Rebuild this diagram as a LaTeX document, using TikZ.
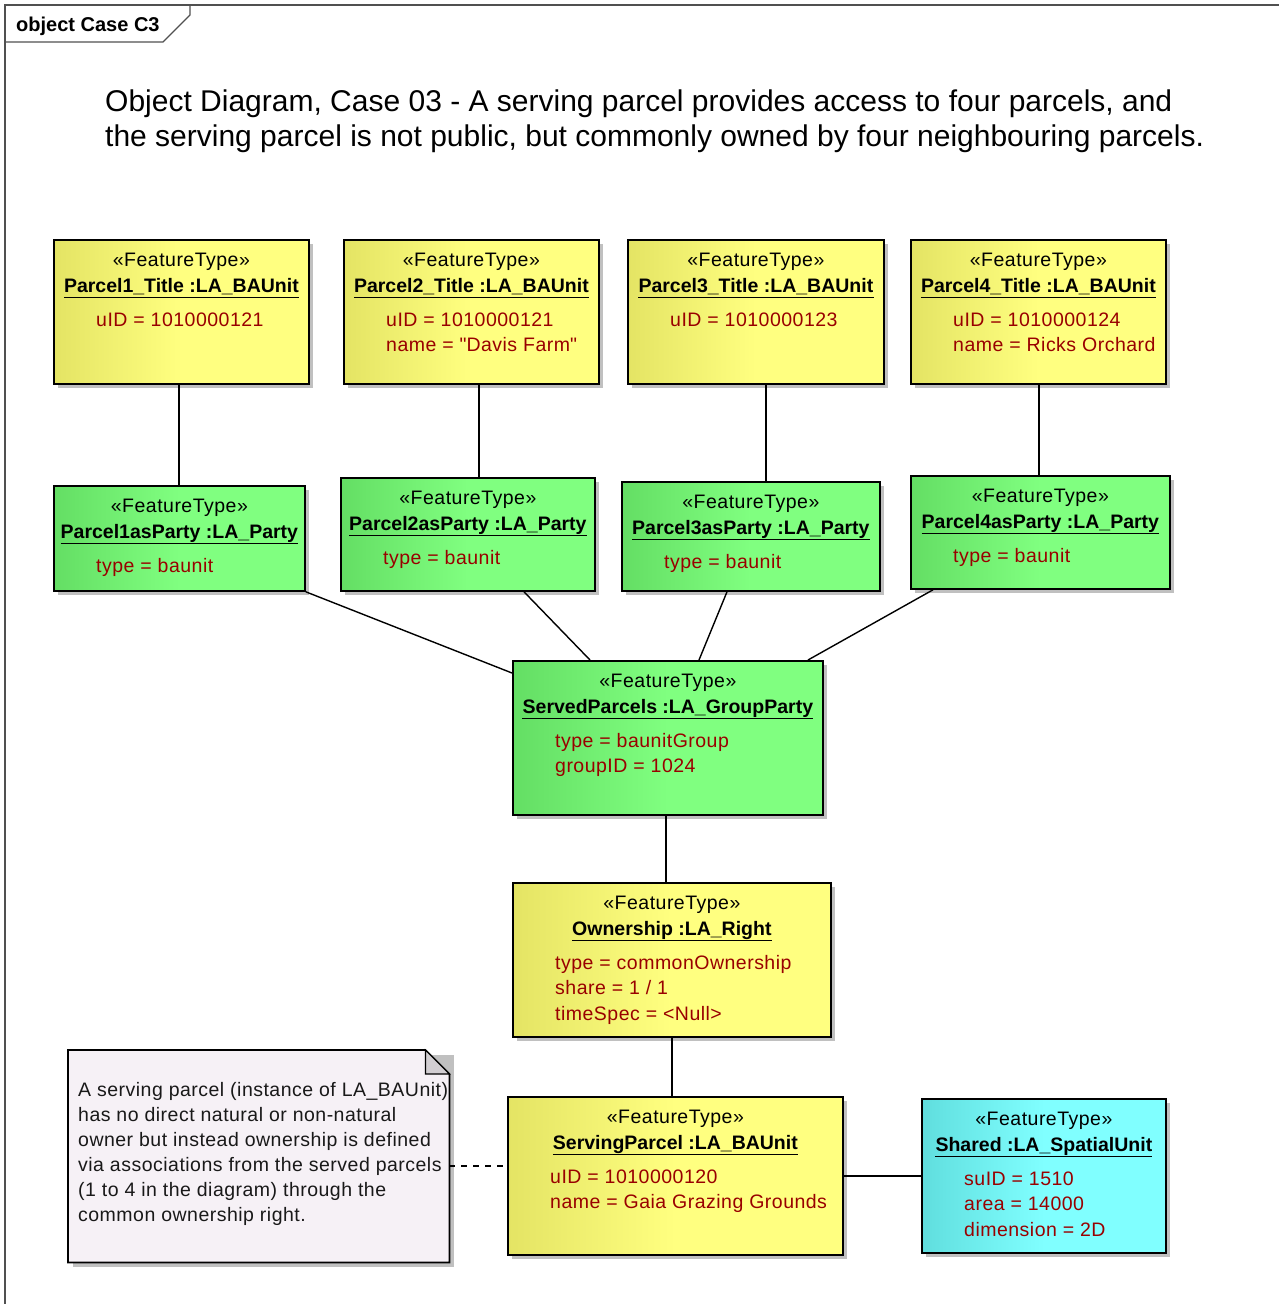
\documentclass[tikz,border=0pt]{standalone}
\usepackage{fontspec}
\setmainfont{Liberation Sans}
\newfontfamily\widesans[LetterSpace=2.5]{Liberation Sans}
\usetikzlibrary{calc}

\definecolor{yellowA}{RGB}{228,228,100}
\definecolor{yellowB}{RGB}{255,255,128}
\definecolor{greenA}{RGB}{100,222,100}
\definecolor{greenB}{RGB}{128,255,128}
\definecolor{cyanA}{RGB}{96,222,222}
\definecolor{cyanB}{RGB}{128,255,255}
\definecolor{noteback}{RGB}{246,241,246}
\definecolor{noteear}{RGB}{210,206,210}
\definecolor{attrred}{RGB}{153,0,0}
\definecolor{shadowgray}{RGB}{192,192,192}
\definecolor{framegray}{RGB}{80,80,80}

\tikzset{
  objframe/.style={draw=black, line width=1.8pt, inner sep=0pt},
  yellowfill/.style={left color=yellowA, right color=yellowB, middle color=yellowB},
  greenfill/.style={left color=greenA, right color=greenB, middle color=greenB},
  cyanfill/.style={left color=cyanA, right color=cyanB, middle color=cyanB},
  boxshadow/.style={fill=shadowgray},
  stereotext/.style={inner sep=0pt, font=\widesans\fontsize{19.5}{24}\selectfont},
  nametext/.style={inner sep=0pt, font=\fontsize{19.5}{24}\selectfont\bfseries},
  attrtext/.style={inner sep=0pt, text=attrred, font=\widesans\fontsize{19.5}{24}\selectfont},
  notetext/.style={inner sep=0pt, text=black!90, font=\widesans\fontsize{19.5}{24}\selectfont},
  titletext/.style={inner sep=0pt, font=\fontsize{30}{35}\selectfont},
  labeltext/.style={inner sep=0pt, font=\fontsize{20}{24}\selectfont\bfseries},
  link/.style={draw=black, line width=1.4pt},
}

% \umlobject{id}{left}{top}{width}{height}{fill style}{instance name}{attribute lines}
\newcommand{\umlobject}[8]{%
  \fill[boxshadow] (#2+5,#3+5) rectangle (#2+#4+5,#3+#5+5);
  \node[objframe,#6,minimum width=#4pt,minimum height=#5pt,anchor=north west] (#1) at (#2,#3) {};
  \node[stereotext,anchor=base] (#1-st) at ([yshift=-27.5pt]#1.north) {«FeatureType»};
  \node[nametext,anchor=base] (#1-nm) at ([yshift=-53.5pt]#1.north) {#7};
  \draw[line width=1.6pt] ([yshift=-4.8pt]#1-nm.base west) -- ([yshift=-4.8pt]#1-nm.base east);
  \foreach \a [count=\i] in {#8} {
    \node[attrtext,anchor=base west] (#1-a\i) at ([xshift=43pt,yshift={-87.5pt-(\i-1)*25.4pt}]#1.north west) {\a};
  }%
}

\begin{document}
\begin{tikzpicture}[x=1pt,y=-1pt]
\useasboundingbox (0,0) rectangle (1279,1304);

% diagram frame and its label tab
\draw[framegray, line width=1.4pt] (5,1304) -- (5,5) -- (1279,5);
\draw[framegray, line width=1.4pt] (5,42) -- (163,42) -- (190,15) -- (190,5);
\node[labeltext,anchor=base west] (frame-label) at (16,31.5) {object Case C3};

% heading
\node[titletext,anchor=base west] (title-1) at (105,111) {Object Diagram, Case 03 - A serving parcel provides access to four parcels, and};
\node[titletext,anchor=base west] (title-2) at (105,146) {the serving parcel is not public, but commonly owned by four neighbouring parcels.};

% parcel titles
\umlobject{p1t}{53}{239}{255}{144}{yellowfill}{Parcel1\_Title :LA\_BAUnit}{uID = 1010000121}
\umlobject{p2t}{343}{239}{255}{144}{yellowfill}{Parcel2\_Title :LA\_BAUnit}{uID = 1010000121, name = \textquotedbl Davis Farm\textquotedbl}
\umlobject{p3t}{627}{239}{256}{144}{yellowfill}{Parcel3\_Title :LA\_BAUnit}{uID = 1010000123}
\umlobject{p4t}{910}{239}{255}{144}{yellowfill}{Parcel4\_Title :LA\_BAUnit}{uID = 1010000124, name = Ricks Orchard}

% parcels acting as parties
\umlobject{p1p}{53}{485}{251}{105}{greenfill}{Parcel1asParty :LA\_Party}{type = baunit}
\umlobject{p2p}{340}{477}{254}{113}{greenfill}{Parcel2asParty :LA\_Party}{type = baunit}
\umlobject{p3p}{621}{481}{258}{109}{greenfill}{Parcel3asParty :LA\_Party}{type = baunit}
\umlobject{p4p}{910}{475}{259}{113}{greenfill}{Parcel4asParty :LA\_Party}{type = baunit}

% group party, right, serving parcel, spatial unit
\umlobject{sp}{512}{660}{310}{154}{greenfill}{ServedParcels :LA\_GroupParty}{type = baunitGroup, groupID = 1024}
\umlobject{own}{512}{882}{318}{154}{yellowfill}{Ownership :LA\_Right}{type = commonOwnership, share = 1 / 1, timeSpec = <Null>}
\umlobject{srv}{507}{1096}{335}{158}{yellowfill}{ServingParcel :LA\_BAUnit}{uID = 1010000120, name = Gaia Grazing Grounds}
\umlobject{shr}{921}{1098}{244}{154}{cyanfill}{Shared :LA\_SpatialUnit}{suID = 1510, area = 14000, dimension = 2D}

% note with folded corner
\fill[boxshadow] (73,1055) rectangle (454,1267);
\node[minimum width=381pt, minimum height=212pt, inner sep=0pt, anchor=north west] (note) at (68,1050) {};
\draw[line width=1.8pt, fill=noteback]
  (note.north west) -- ([xshift=-24pt]note.north east) -- ([yshift=-24pt]note.north east)
  -- (note.south east) -- (note.south west) -- cycle;
\draw[line width=1.2pt, fill=noteear]
  ([xshift=-24pt]note.north east) -- ([xshift=-24pt,yshift=-24pt]note.north east)
  -- ([yshift=-24pt]note.north east) -- cycle;
\foreach \t [count=\i] in {{A serving parcel (instance of LA\_BAUnit)},
  {has no direct natural or non-natural},
  {owner but instead ownership is defined},
  {via associations from the served parcels},
  {(1 to 4 in the diagram) through the},
  {common ownership right.}} {
  \node[notetext,anchor=base west] (note-l\i) at ([xshift=10pt,yshift={-46.5pt-(\i-1)*25pt}]note.north west) {\t};
}

% connectors
\draw[link] (p1t.south -| 179,0) -- (p1p.north -| 179,0);
\draw[link] (p2t.south -| 479,0) -- (p2p.north -| 479,0);
\draw[link] (p3t.south -| 766,0) -- (p3p.north -| 766,0);
\draw[link] (p4t.south -| 1039,0) -- (p4p.north -| 1039,0);
\draw[link] (p1p.south east) -- (sp.west |- 0,673);
\draw[link] (p2p.south -| 524,0) -- (sp.north -| 590,0);
\draw[link] (p3p.south -| 727,0) -- (sp.north -| 699,0);
\draw[link] (p4p.south -| 933,0) -- (sp.north -| 808,0);
\draw[link] (sp.south -| 666,0) -- (own.north -| 666,0);
\draw[link] (own.south -| 672,0) -- (srv.north -| 672,0);
\draw[link] (srv.east |- 0,1176) -- (shr.west |- 0,1176);
\draw[link, dash pattern=on 6pt off 6pt] (note.east |- 0,1166) -- (srv.west |- 0,1166);
\end{tikzpicture}
\end{document}
